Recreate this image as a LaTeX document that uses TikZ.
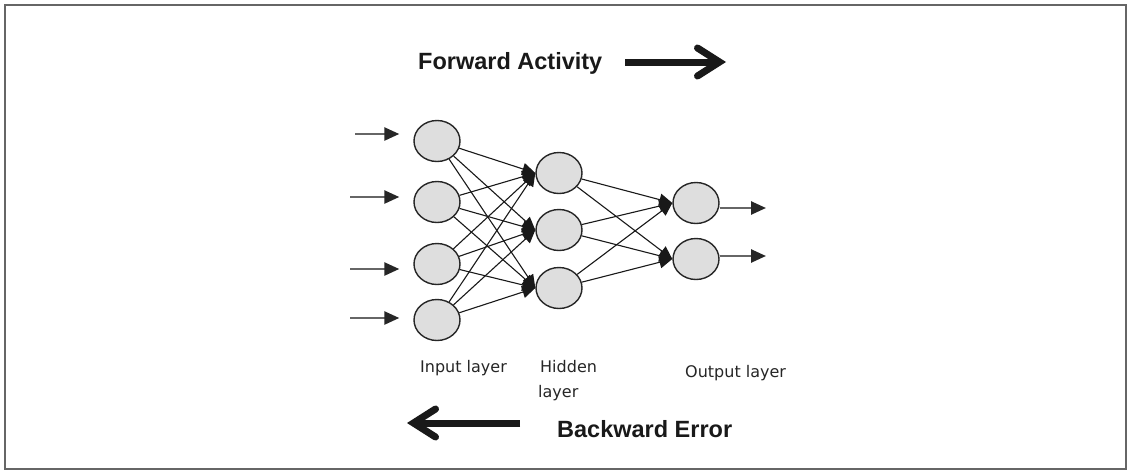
\documentclass[tikz,border=0pt]{standalone}
\usepackage{fontspec}
\setmainfont{DejaVu Sans}
\newfontfamily\headfont{Liberation Sans}
\usetikzlibrary{arrows.meta,shapes.geometric}

\begin{document}
\begin{tikzpicture}[x=1pt,y=-1pt,
  neuron/.style={ellipse, draw=black!85, line width=1.4pt, fill=black!13,
    minimum width=46pt, minimum height=41pt, inner sep=0pt},
  link/.style={draw=black!90, line width=1.1pt,
    -{Triangle[length=13pt,width=12pt]}},
  feed/.style={draw=black!60, line width=2.5pt,
    -{Triangle[length=15pt,width=13pt,color=black!85]}},
  bigarrow/.style={draw=black!90, line width=7pt,
    -{Straight Barb[length=22pt,width=28pt,line cap=round]}},
  layerlabel/.style={anchor=base west, inner sep=0pt, text=black!85,
    font=\fontsize{16}{18}\selectfont},
  headline/.style={anchor=base west, inner sep=0pt, text=black!90,
    font=\headfont\bfseries\fontsize{23.5}{26}\selectfont}
]
% canvas and frame
\useasboundingbox (0,0) rectangle (1129,471);
\fill[white] (0,0) rectangle (1129,471);
\draw[black!60, line width=1.5pt] (5,5) rectangle (1126,469);

% neurons
\node[neuron] (i1) at (437,141) {};
\node[neuron] (i2) at (437,202) {};
\node[neuron] (i3) at (437,264) {};
\node[neuron] (i4) at (437,320) {};
\node[neuron] (h1) at (559,173) {};
\node[neuron] (h2) at (559,230) {};
\node[neuron] (h3) at (559,288) {};
\node[neuron] (o1) at (696,203) {};
\node[neuron] (o2) at (696,259) {};

% input -> hidden
\foreach \a in {i1,i2,i3,i4}
  \foreach \b in {h1,h2,h3}
    \draw[link] (\a) -- (\b.west);
% hidden -> output
\foreach \a in {h1,h2,h3}
  \foreach \b in {o1,o2}
    \draw[link] (\a) -- (\b.west);

% external inputs
\coordinate (s1) at (355,134);
\coordinate (s2) at (350,197);
\coordinate (s3) at (350,269);
\coordinate (s4) at (350,318);
\foreach \k in {1,2,3,4}
  \draw[feed, shorten >=14pt] (s\k) -- (s\k -| i\k.west);

% outputs
\coordinate (t1) at (766,208);
\coordinate (t2) at (766,256);
\draw[feed] (o1.east |- t1) -- (t1);
\draw[feed] (o2.east |- t2) -- (t2);

% layer labels
\node[layerlabel] (lin) at (420,372) {Input layer};
\node[layerlabel] (lhid) at (540,372.5) {Hidden};
\node[layerlabel] (lhid2) at (538,397) {layer};
\node[layerlabel] (lout) at (685,377) {Output layer};

% direction of activity and error
\node[headline] (fwd) at (418,69.5) {Forward Activity};
\coordinate (fs) at (625,62);
\coordinate (fe) at (726,62);
\draw[bigarrow] (fs) -- (fe);

\node[headline] (bwd) at (557,437.5) {Backward Error};
\coordinate (bs) at (520,423);
\coordinate (be) at (407,423);
\draw[bigarrow] (bs) -- (be);
\end{tikzpicture}
\end{document}
